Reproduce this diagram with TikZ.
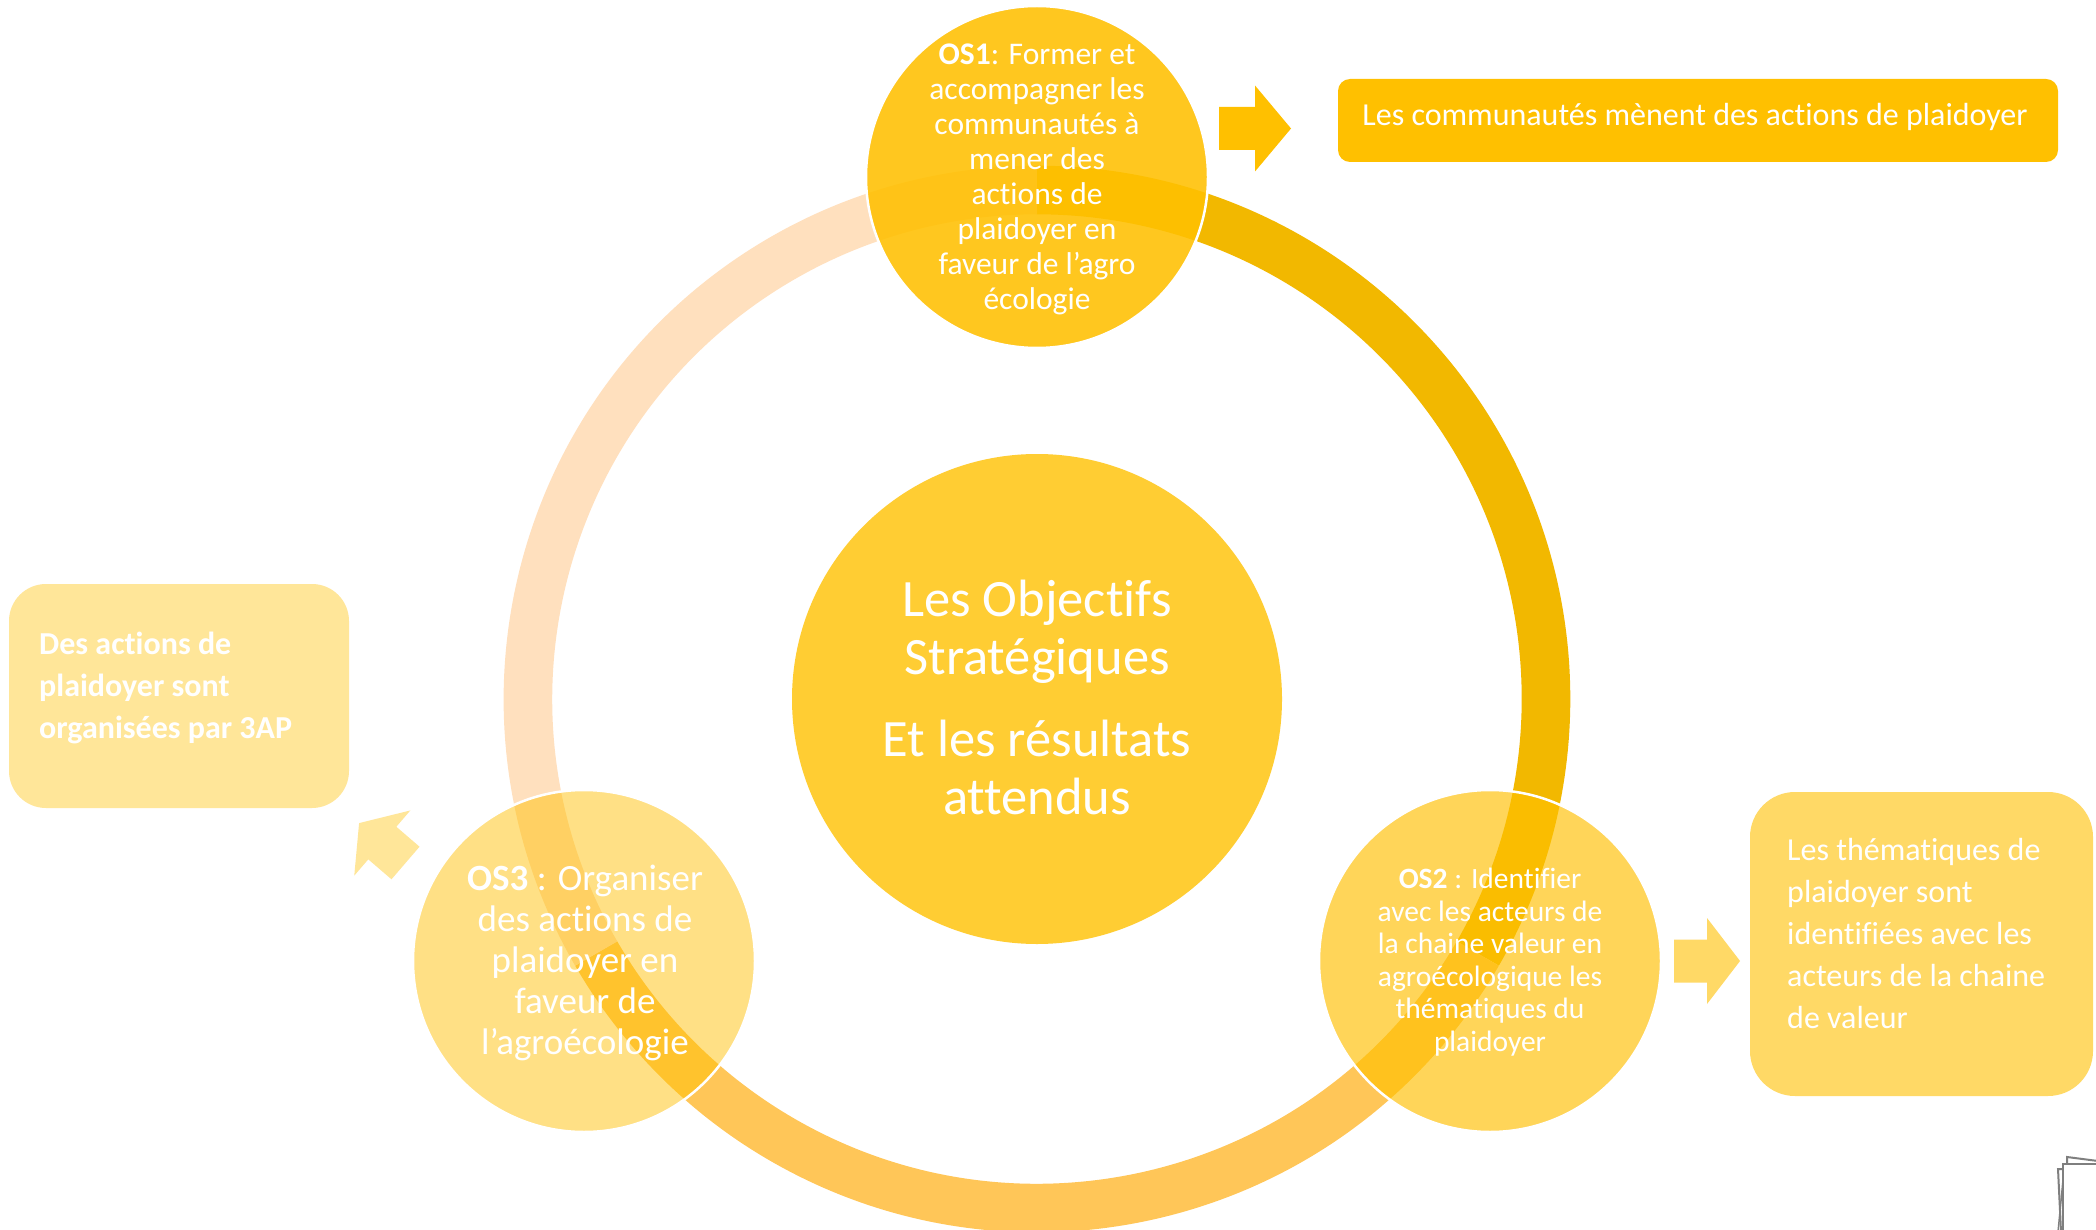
\documentclass[tikz,border=0pt]{standalone}
\usepackage{fontspec}
\setmainfont{Carlito}[Ligatures={NoCommon}]
\definecolor{ringgold}{HTML}{F2B800}
\definecolor{ringorange}{HTML}{FFC658}
\definecolor{ringpeach}{HTML}{FFE0BE}
\definecolor{centerfill}{HTML}{FFCD33}
\definecolor{satbase}{HTML}{FFC000}
\definecolor{topbox}{HTML}{FFC000}
\definecolor{rightbox}{HTML}{FFD966}
\definecolor{leftbox}{HTML}{FFE699}
\definecolor{iconline}{HTML}{7F7F7F}
\tikzset{
  ringarc/.style={line width=48.6pt},
  sat/.style={circle, minimum size=342pt, inner sep=0pt, fill=satbase, draw=white, line width=2.5pt},
  wtext/.style={text=white, inner sep=0pt, align=center},
  ltext/.style={text=white, inner sep=0pt, align=left, anchor=west},
  resbox/.style={rectangle, inner sep=0pt},
  blockarr/.pic={\fill (0,-21.5) -- (36,-21.5) -- (36,-43) -- (72,0) -- (36,43) -- (36,21.5) -- (0,21.5) -- cycle;}
}
\begin{document}
\begin{tikzpicture}[x=1pt,y=-1pt]
\useasboundingbox (0,0) rectangle (2096,1230);
\clip (0,0) rectangle (2096,1230);
\fill[white] (0,0) rectangle (2096,1230);

% ring
\coordinate (rc) at (1037,699);
\draw[ringarc, ringgold]   (rc) ++(-90:509) arc[start angle=-90, end angle=30, radius=509];
\draw[ringarc, ringorange] (rc) ++(30:509)  arc[start angle=30, end angle=150, radius=509];
\draw[ringarc, ringpeach]  (rc) ++(150:509) arc[start angle=150, end angle=270, radius=509];

% centre
\node[circle, minimum size=490pt, inner sep=0pt, fill=centerfill] (ctr) at (1037,699) {};
\node[wtext, font=\fontsize{52.5}{58}\selectfont] (ctrt) at (1037,697)
  {Les Objectifs\\Stratégiques\\[24pt]Et les résultats\\attendus};

% satellites
\node[sat, fill opacity=0.88] (os1) at (1037,177) {};
\node[sat, fill opacity=0.65] (os2) at (1490,961) {};
\node[sat, fill opacity=0.48] (os3) at (584,961) {};

\node[wtext, font=\fontsize{31.5}{35}\selectfont] (os1t) at (1037,179)
  {\textbf{OS1}: Former et\\accompagner les\\communautés à\\mener des\\actions de\\plaidoyer en\\faveur de l’agro\\écologie};
\node[wtext, font=\fontsize{29.5}{32.5}\selectfont] (os2t) at (1490,962)
  {\textbf{OS2} : Identifier\\avec les acteurs de\\la chaine valeur en\\agroécologique les\\thématiques du\\plaidoyer};
\node[wtext, font=\fontsize{37}{41}\selectfont] (os3t) at (585,963)
  {\textbf{OS3} : Organiser\\des actions de\\plaidoyer en\\faveur de\\l’agroécologie};

% result boxes
\node[resbox, rounded corners=12pt, fill=topbox, minimum width=720pt, minimum height=83pt] (res1) at (1698,120.5) {};
\node[text=white, inner sep=0pt, anchor=base, font=\fontsize{32}{38}\selectfont] (res1t) at (1695,126)
  {Les communautés mènent des actions de plaidoyer};

\node[resbox, rounded corners=45pt, fill=rightbox, minimum width=343pt, minimum height=304pt] (res2) at (1921.5,944) {};
\node[ltext, font=\fontsize{32}{42}\selectfont] (res2t) at (1787,933)
  {Les thématiques de\\plaidoyer sont\\identifiées avec les\\acteurs de la chaine\\de valeur};

\node[resbox, rounded corners=37pt, fill=leftbox, minimum width=340pt, minimum height=224pt] (res3) at (179,696) {};
\node[ltext, font=\fontsize{32}{42}\selectfont\bfseries] (res3t) at (39,688)
  {Des actions de\\plaidoyer sont\\organisées par 3AP};

% block arrows
\pic[topbox] (arr1) at (1219,128.5) {blockarr};
\pic[rightbox, xscale=0.917] (arr2) at (1674,961) {blockarr};
\pic[leftbox, rotate=139.3, xscale=0.85] (arr3) at (405.5,863) {blockarr};

% small icon at bottom right
\draw[iconline, line width=2pt] (2063,1232) -- (2063,1164) -- (2098,1164);
\draw[iconline, line width=2pt] (2067,1164) -- (2067,1157) -- (2098,1161);
\draw[iconline, line width=2pt] (2063,1169) -- (2058,1169) -- (2061,1232);
\draw[iconline, line width=1.5pt] (2063,1180) -- (2058,1232);
\end{tikzpicture}
\end{document}
